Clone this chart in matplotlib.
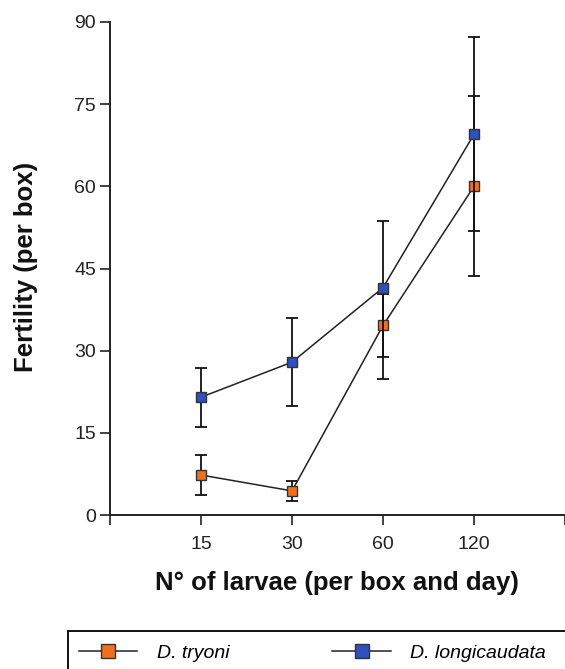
import matplotlib
matplotlib.use('Agg')
import matplotlib.pyplot as plt
from matplotlib.patches import Rectangle
from matplotlib.lines import Line2D

# Dati
larvae = ['15', '30', '60', '120']
tryoni = [7.3, 4.4, 34.6, 60.0]
tryoni_err = [3.6, 1.8, 5.8, 16.4]
longi = [21.5, 27.9, 41.5, 69.5]
longi_err_low = [5.4, 8.0, 16.7, 17.7]
longi_err_up = [5.4, 8.0, 12.1, 17.7]
y_ticks = [0, 15, 30, 45, 60, 75, 90]

plt.rcParams['font.family'] = ['Liberation Sans Narrow', 'Liberation Sans', 'DejaVu Sans']

fig = plt.figure(figsize=(5.65, 6.69), dpi=100)
ax = fig.add_axes([110 / 565, 1 - 515 / 669, 1 - 110 / 565, (515 - 22) / 669])

pos = list(range(1, len(larvae) + 1))
orange = '#F07020'
blue = '#3050C0'

ax.errorbar(pos, tryoni, yerr=tryoni_err, color='#222222', lw=1.1, ecolor='#111111',
            elinewidth=1.3, capsize=4.5, capthick=1.3, marker='s', markersize=7.5,
            markerfacecolor=orange, markeredgecolor='#333333', zorder=3)
ax.errorbar(pos, longi, yerr=[longi_err_low, longi_err_up], color='#222222', lw=1.1,
            ecolor='#111111', elinewidth=1.3, capsize=4.5, capthick=1.3, marker='s',
            markersize=7.5, markerfacecolor=blue, markeredgecolor='#333333', zorder=4)

ax.set_xlim(0, 5)
ax.set_ylim(0, 90)
ax.set_yticks(y_ticks)
ax.set_xticks([0] + pos + [5])
ax.set_xticklabels([''] + larvae + [''])
ax.tick_params(axis='both', labelsize=14, length=7, width=1.2, color='#222222',
               labelcolor='#222222')
ax.tick_params(axis='y', pad=3)
ax.tick_params(axis='x', pad=8)
for s in ['top', 'right']:
    ax.spines[s].set_visible(False)
for s in ['left', 'bottom']:
    ax.spines[s].set_linewidth(1.4)
    ax.spines[s].set_color('#222222')

fig.text(26 / 565, 1 - 267 / 669, 'Fertility (per box)', fontsize=18.5, fontweight='bold',
         rotation=90, ha='center', va='center', color='#111111')
fig.text(337 / 565, 1 - 583 / 669, 'N° of larvae (per box and day)', fontsize=18.5,
         fontweight='bold', ha='center', va='center', color='#111111')

# Riquadro della legenda (tagliato in basso come nell'originale)
fig.patches.append(Rectangle((68 / 565, -0.05), 1.0, 1 - 631 / 669 + 0.05,
                             transform=fig.transFigure, fill=False, edgecolor='#111111', lw=1.4))
handles = [Line2D([], [], color='#222222', lw=1.1, marker='s', markersize=10,
                  markerfacecolor=orange, markeredgecolor='#333333'),
           Line2D([], [], color='#222222', lw=1.1, marker='s', markersize=10,
                  markerfacecolor=blue, markeredgecolor='#333333')]
fig.legend(handles, ['D. tryoni', 'D. longicaudata'], loc='center left',
           bbox_to_anchor=(79 / 565, 1 - 653 / 669), ncol=2, frameon=False,
           handlelength=3.0, handletextpad=1.0, columnspacing=5.3,
           borderpad=0, borderaxespad=0, prop={'style': 'italic', 'size': 14})

plt.savefig('out.png', dpi=100)
